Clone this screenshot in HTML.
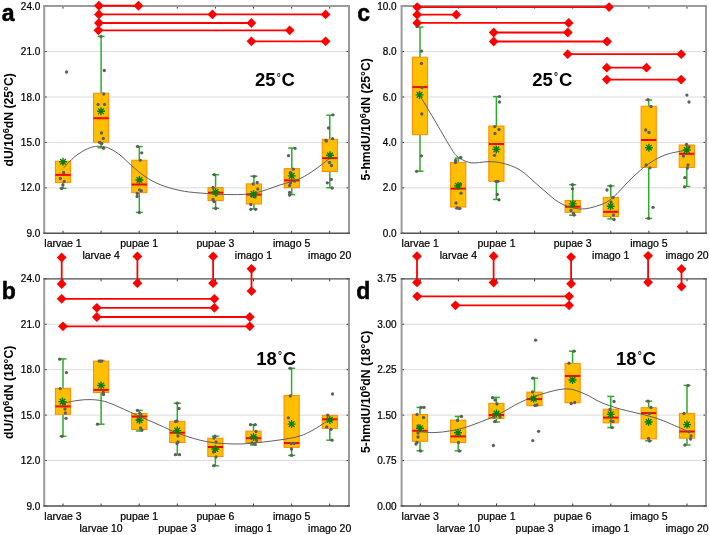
<!DOCTYPE html><html><head><meta charset="utf-8"><style>html,body{margin:0;padding:0;background:#fff;width:709px;height:535px;overflow:hidden;position:relative}</style></head><body><svg width="709" height="535" viewBox="0 0 709 535" style="position:absolute;left:0;top:0;will-change:transform">
<rect width="709" height="535" fill="#fff"/>
<line x1="44.2" y1="6.1" x2="349" y2="6.1" stroke="#DCDCDC" stroke-width="1"/>
<line x1="44.2" y1="51.54" x2="349" y2="51.54" stroke="#DCDCDC" stroke-width="1"/>
<line x1="44.2" y1="96.98" x2="349" y2="96.98" stroke="#DCDCDC" stroke-width="1"/>
<line x1="44.2" y1="142.42" x2="349" y2="142.42" stroke="#DCDCDC" stroke-width="1"/>
<line x1="44.2" y1="187.86" x2="349" y2="187.86" stroke="#DCDCDC" stroke-width="1"/>
<line x1="44.2" y1="233.3" x2="349" y2="233.3" stroke="#DCDCDC" stroke-width="1"/>
<line x1="44.2" y1="6.1" x2="46.7" y2="6.1" stroke="#333" stroke-width="1"/>
<line x1="346.5" y1="6.1" x2="349" y2="6.1" stroke="#333" stroke-width="1"/>
<line x1="44.2" y1="51.54" x2="46.7" y2="51.54" stroke="#333" stroke-width="1"/>
<line x1="346.5" y1="51.54" x2="349" y2="51.54" stroke="#333" stroke-width="1"/>
<line x1="44.2" y1="96.98" x2="46.7" y2="96.98" stroke="#333" stroke-width="1"/>
<line x1="346.5" y1="96.98" x2="349" y2="96.98" stroke="#333" stroke-width="1"/>
<line x1="44.2" y1="142.42" x2="46.7" y2="142.42" stroke="#333" stroke-width="1"/>
<line x1="346.5" y1="142.42" x2="349" y2="142.42" stroke="#333" stroke-width="1"/>
<line x1="44.2" y1="187.86" x2="46.7" y2="187.86" stroke="#333" stroke-width="1"/>
<line x1="346.5" y1="187.86" x2="349" y2="187.86" stroke="#333" stroke-width="1"/>
<line x1="44.2" y1="233.3" x2="46.7" y2="233.3" stroke="#333" stroke-width="1"/>
<line x1="346.5" y1="233.3" x2="349" y2="233.3" stroke="#333" stroke-width="1"/>
<line x1="63" y1="6.1" x2="63" y2="8.6" stroke="#333" stroke-width="1"/>
<line x1="63" y1="230.8" x2="63" y2="233.3" stroke="#333" stroke-width="1"/>
<line x1="101.1" y1="6.1" x2="101.1" y2="8.6" stroke="#333" stroke-width="1"/>
<line x1="101.1" y1="230.8" x2="101.1" y2="233.3" stroke="#333" stroke-width="1"/>
<line x1="139.2" y1="6.1" x2="139.2" y2="8.6" stroke="#333" stroke-width="1"/>
<line x1="139.2" y1="230.8" x2="139.2" y2="233.3" stroke="#333" stroke-width="1"/>
<line x1="177.3" y1="6.1" x2="177.3" y2="8.6" stroke="#333" stroke-width="1"/>
<line x1="177.3" y1="230.8" x2="177.3" y2="233.3" stroke="#333" stroke-width="1"/>
<line x1="215.4" y1="6.1" x2="215.4" y2="8.6" stroke="#333" stroke-width="1"/>
<line x1="215.4" y1="230.8" x2="215.4" y2="233.3" stroke="#333" stroke-width="1"/>
<line x1="253.5" y1="6.1" x2="253.5" y2="8.6" stroke="#333" stroke-width="1"/>
<line x1="253.5" y1="230.8" x2="253.5" y2="233.3" stroke="#333" stroke-width="1"/>
<line x1="291.6" y1="6.1" x2="291.6" y2="8.6" stroke="#333" stroke-width="1"/>
<line x1="291.6" y1="230.8" x2="291.6" y2="233.3" stroke="#333" stroke-width="1"/>
<line x1="329.7" y1="6.1" x2="329.7" y2="8.6" stroke="#333" stroke-width="1"/>
<line x1="329.7" y1="230.8" x2="329.7" y2="233.3" stroke="#333" stroke-width="1"/>
<line x1="44.2" y1="278.8" x2="349" y2="278.8" stroke="#DCDCDC" stroke-width="1"/>
<line x1="44.2" y1="324.24" x2="349" y2="324.24" stroke="#DCDCDC" stroke-width="1"/>
<line x1="44.2" y1="369.68" x2="349" y2="369.68" stroke="#DCDCDC" stroke-width="1"/>
<line x1="44.2" y1="415.12" x2="349" y2="415.12" stroke="#DCDCDC" stroke-width="1"/>
<line x1="44.2" y1="460.56" x2="349" y2="460.56" stroke="#DCDCDC" stroke-width="1"/>
<line x1="44.2" y1="506" x2="349" y2="506" stroke="#DCDCDC" stroke-width="1"/>
<line x1="44.2" y1="278.8" x2="46.7" y2="278.8" stroke="#333" stroke-width="1"/>
<line x1="346.5" y1="278.8" x2="349" y2="278.8" stroke="#333" stroke-width="1"/>
<line x1="44.2" y1="324.24" x2="46.7" y2="324.24" stroke="#333" stroke-width="1"/>
<line x1="346.5" y1="324.24" x2="349" y2="324.24" stroke="#333" stroke-width="1"/>
<line x1="44.2" y1="369.68" x2="46.7" y2="369.68" stroke="#333" stroke-width="1"/>
<line x1="346.5" y1="369.68" x2="349" y2="369.68" stroke="#333" stroke-width="1"/>
<line x1="44.2" y1="415.12" x2="46.7" y2="415.12" stroke="#333" stroke-width="1"/>
<line x1="346.5" y1="415.12" x2="349" y2="415.12" stroke="#333" stroke-width="1"/>
<line x1="44.2" y1="460.56" x2="46.7" y2="460.56" stroke="#333" stroke-width="1"/>
<line x1="346.5" y1="460.56" x2="349" y2="460.56" stroke="#333" stroke-width="1"/>
<line x1="44.2" y1="506" x2="46.7" y2="506" stroke="#333" stroke-width="1"/>
<line x1="346.5" y1="506" x2="349" y2="506" stroke="#333" stroke-width="1"/>
<line x1="63" y1="278.8" x2="63" y2="281.3" stroke="#333" stroke-width="1"/>
<line x1="63" y1="503.5" x2="63" y2="506" stroke="#333" stroke-width="1"/>
<line x1="101.1" y1="278.8" x2="101.1" y2="281.3" stroke="#333" stroke-width="1"/>
<line x1="101.1" y1="503.5" x2="101.1" y2="506" stroke="#333" stroke-width="1"/>
<line x1="139.2" y1="278.8" x2="139.2" y2="281.3" stroke="#333" stroke-width="1"/>
<line x1="139.2" y1="503.5" x2="139.2" y2="506" stroke="#333" stroke-width="1"/>
<line x1="177.3" y1="278.8" x2="177.3" y2="281.3" stroke="#333" stroke-width="1"/>
<line x1="177.3" y1="503.5" x2="177.3" y2="506" stroke="#333" stroke-width="1"/>
<line x1="215.4" y1="278.8" x2="215.4" y2="281.3" stroke="#333" stroke-width="1"/>
<line x1="215.4" y1="503.5" x2="215.4" y2="506" stroke="#333" stroke-width="1"/>
<line x1="253.5" y1="278.8" x2="253.5" y2="281.3" stroke="#333" stroke-width="1"/>
<line x1="253.5" y1="503.5" x2="253.5" y2="506" stroke="#333" stroke-width="1"/>
<line x1="291.6" y1="278.8" x2="291.6" y2="281.3" stroke="#333" stroke-width="1"/>
<line x1="291.6" y1="503.5" x2="291.6" y2="506" stroke="#333" stroke-width="1"/>
<line x1="329.7" y1="278.8" x2="329.7" y2="281.3" stroke="#333" stroke-width="1"/>
<line x1="329.7" y1="503.5" x2="329.7" y2="506" stroke="#333" stroke-width="1"/>
<line x1="401.6" y1="6.1" x2="706" y2="6.1" stroke="#DCDCDC" stroke-width="1"/>
<line x1="401.6" y1="51.54" x2="706" y2="51.54" stroke="#DCDCDC" stroke-width="1"/>
<line x1="401.6" y1="96.98" x2="706" y2="96.98" stroke="#DCDCDC" stroke-width="1"/>
<line x1="401.6" y1="142.42" x2="706" y2="142.42" stroke="#DCDCDC" stroke-width="1"/>
<line x1="401.6" y1="187.86" x2="706" y2="187.86" stroke="#DCDCDC" stroke-width="1"/>
<line x1="401.6" y1="233.3" x2="706" y2="233.3" stroke="#DCDCDC" stroke-width="1"/>
<line x1="401.6" y1="6.1" x2="404.1" y2="6.1" stroke="#333" stroke-width="1"/>
<line x1="703.5" y1="6.1" x2="706" y2="6.1" stroke="#333" stroke-width="1"/>
<line x1="401.6" y1="51.54" x2="404.1" y2="51.54" stroke="#333" stroke-width="1"/>
<line x1="703.5" y1="51.54" x2="706" y2="51.54" stroke="#333" stroke-width="1"/>
<line x1="401.6" y1="96.98" x2="404.1" y2="96.98" stroke="#333" stroke-width="1"/>
<line x1="703.5" y1="96.98" x2="706" y2="96.98" stroke="#333" stroke-width="1"/>
<line x1="401.6" y1="142.42" x2="404.1" y2="142.42" stroke="#333" stroke-width="1"/>
<line x1="703.5" y1="142.42" x2="706" y2="142.42" stroke="#333" stroke-width="1"/>
<line x1="401.6" y1="187.86" x2="404.1" y2="187.86" stroke="#333" stroke-width="1"/>
<line x1="703.5" y1="187.86" x2="706" y2="187.86" stroke="#333" stroke-width="1"/>
<line x1="401.6" y1="233.3" x2="404.1" y2="233.3" stroke="#333" stroke-width="1"/>
<line x1="703.5" y1="233.3" x2="706" y2="233.3" stroke="#333" stroke-width="1"/>
<line x1="420.3" y1="6.1" x2="420.3" y2="8.6" stroke="#333" stroke-width="1"/>
<line x1="420.3" y1="230.8" x2="420.3" y2="233.3" stroke="#333" stroke-width="1"/>
<line x1="458.4" y1="6.1" x2="458.4" y2="8.6" stroke="#333" stroke-width="1"/>
<line x1="458.4" y1="230.8" x2="458.4" y2="233.3" stroke="#333" stroke-width="1"/>
<line x1="496.5" y1="6.1" x2="496.5" y2="8.6" stroke="#333" stroke-width="1"/>
<line x1="496.5" y1="230.8" x2="496.5" y2="233.3" stroke="#333" stroke-width="1"/>
<line x1="534.6" y1="6.1" x2="534.6" y2="8.6" stroke="#333" stroke-width="1"/>
<line x1="534.6" y1="230.8" x2="534.6" y2="233.3" stroke="#333" stroke-width="1"/>
<line x1="572.7" y1="6.1" x2="572.7" y2="8.6" stroke="#333" stroke-width="1"/>
<line x1="572.7" y1="230.8" x2="572.7" y2="233.3" stroke="#333" stroke-width="1"/>
<line x1="610.8" y1="6.1" x2="610.8" y2="8.6" stroke="#333" stroke-width="1"/>
<line x1="610.8" y1="230.8" x2="610.8" y2="233.3" stroke="#333" stroke-width="1"/>
<line x1="648.9" y1="6.1" x2="648.9" y2="8.6" stroke="#333" stroke-width="1"/>
<line x1="648.9" y1="230.8" x2="648.9" y2="233.3" stroke="#333" stroke-width="1"/>
<line x1="687" y1="6.1" x2="687" y2="8.6" stroke="#333" stroke-width="1"/>
<line x1="687" y1="230.8" x2="687" y2="233.3" stroke="#333" stroke-width="1"/>
<line x1="401.6" y1="278.8" x2="706" y2="278.8" stroke="#DCDCDC" stroke-width="1"/>
<line x1="401.6" y1="324.24" x2="706" y2="324.24" stroke="#DCDCDC" stroke-width="1"/>
<line x1="401.6" y1="369.68" x2="706" y2="369.68" stroke="#DCDCDC" stroke-width="1"/>
<line x1="401.6" y1="415.12" x2="706" y2="415.12" stroke="#DCDCDC" stroke-width="1"/>
<line x1="401.6" y1="460.56" x2="706" y2="460.56" stroke="#DCDCDC" stroke-width="1"/>
<line x1="401.6" y1="506" x2="706" y2="506" stroke="#DCDCDC" stroke-width="1"/>
<line x1="401.6" y1="278.8" x2="404.1" y2="278.8" stroke="#333" stroke-width="1"/>
<line x1="703.5" y1="278.8" x2="706" y2="278.8" stroke="#333" stroke-width="1"/>
<line x1="401.6" y1="324.24" x2="404.1" y2="324.24" stroke="#333" stroke-width="1"/>
<line x1="703.5" y1="324.24" x2="706" y2="324.24" stroke="#333" stroke-width="1"/>
<line x1="401.6" y1="369.68" x2="404.1" y2="369.68" stroke="#333" stroke-width="1"/>
<line x1="703.5" y1="369.68" x2="706" y2="369.68" stroke="#333" stroke-width="1"/>
<line x1="401.6" y1="415.12" x2="404.1" y2="415.12" stroke="#333" stroke-width="1"/>
<line x1="703.5" y1="415.12" x2="706" y2="415.12" stroke="#333" stroke-width="1"/>
<line x1="401.6" y1="460.56" x2="404.1" y2="460.56" stroke="#333" stroke-width="1"/>
<line x1="703.5" y1="460.56" x2="706" y2="460.56" stroke="#333" stroke-width="1"/>
<line x1="401.6" y1="506" x2="404.1" y2="506" stroke="#333" stroke-width="1"/>
<line x1="703.5" y1="506" x2="706" y2="506" stroke="#333" stroke-width="1"/>
<line x1="420.3" y1="278.8" x2="420.3" y2="281.3" stroke="#333" stroke-width="1"/>
<line x1="420.3" y1="503.5" x2="420.3" y2="506" stroke="#333" stroke-width="1"/>
<line x1="458.4" y1="278.8" x2="458.4" y2="281.3" stroke="#333" stroke-width="1"/>
<line x1="458.4" y1="503.5" x2="458.4" y2="506" stroke="#333" stroke-width="1"/>
<line x1="496.5" y1="278.8" x2="496.5" y2="281.3" stroke="#333" stroke-width="1"/>
<line x1="496.5" y1="503.5" x2="496.5" y2="506" stroke="#333" stroke-width="1"/>
<line x1="534.6" y1="278.8" x2="534.6" y2="281.3" stroke="#333" stroke-width="1"/>
<line x1="534.6" y1="503.5" x2="534.6" y2="506" stroke="#333" stroke-width="1"/>
<line x1="572.7" y1="278.8" x2="572.7" y2="281.3" stroke="#333" stroke-width="1"/>
<line x1="572.7" y1="503.5" x2="572.7" y2="506" stroke="#333" stroke-width="1"/>
<line x1="610.8" y1="278.8" x2="610.8" y2="281.3" stroke="#333" stroke-width="1"/>
<line x1="610.8" y1="503.5" x2="610.8" y2="506" stroke="#333" stroke-width="1"/>
<line x1="648.9" y1="278.8" x2="648.9" y2="281.3" stroke="#333" stroke-width="1"/>
<line x1="648.9" y1="503.5" x2="648.9" y2="506" stroke="#333" stroke-width="1"/>
<line x1="687" y1="278.8" x2="687" y2="281.3" stroke="#333" stroke-width="1"/>
<line x1="687" y1="503.5" x2="687" y2="506" stroke="#333" stroke-width="1"/>
<line x1="63" y1="182.6" x2="63" y2="188.4" stroke="#2AAE2A" stroke-width="1.5"/>
<line x1="59.5" y1="188.4" x2="66.5" y2="188.4" stroke="#2AAE2A" stroke-width="1.5"/>
<rect x="55.4" y="161.2" width="15.2" height="21.4" fill="#FFBE00" stroke="#FF8A00" stroke-width="1"/>
<line x1="55.4" y1="174.9" x2="70.6" y2="174.9" stroke="#FF0000" stroke-width="2"/>
<line x1="101.1" y1="36.4" x2="101.1" y2="93.2" stroke="#2AAE2A" stroke-width="1.5"/>
<line x1="97.6" y1="36.4" x2="104.6" y2="36.4" stroke="#2AAE2A" stroke-width="1.5"/>
<line x1="101.1" y1="142.2" x2="101.1" y2="147.8" stroke="#2AAE2A" stroke-width="1.5"/>
<line x1="97.6" y1="147.8" x2="104.6" y2="147.8" stroke="#2AAE2A" stroke-width="1.5"/>
<rect x="93.5" y="93.2" width="15.2" height="49" fill="#FFBE00" stroke="#FF8A00" stroke-width="1"/>
<line x1="93.5" y1="118.2" x2="108.7" y2="118.2" stroke="#FF0000" stroke-width="2"/>
<line x1="139.3" y1="146.6" x2="139.3" y2="160.2" stroke="#2AAE2A" stroke-width="1.5"/>
<line x1="135.8" y1="146.6" x2="142.8" y2="146.6" stroke="#2AAE2A" stroke-width="1.5"/>
<line x1="139.3" y1="192.6" x2="139.3" y2="212.4" stroke="#2AAE2A" stroke-width="1.5"/>
<line x1="135.8" y1="212.4" x2="142.8" y2="212.4" stroke="#2AAE2A" stroke-width="1.5"/>
<rect x="131.7" y="160.2" width="15.2" height="32.4" fill="#FFBE00" stroke="#FF8A00" stroke-width="1"/>
<line x1="131.7" y1="184.5" x2="146.9" y2="184.5" stroke="#FF0000" stroke-width="2"/>
<line x1="215.6" y1="174.7" x2="215.6" y2="187.6" stroke="#2AAE2A" stroke-width="1.5"/>
<line x1="212.1" y1="174.7" x2="219.1" y2="174.7" stroke="#2AAE2A" stroke-width="1.5"/>
<line x1="215.6" y1="200.6" x2="215.6" y2="208.3" stroke="#2AAE2A" stroke-width="1.5"/>
<line x1="212.1" y1="208.3" x2="219.1" y2="208.3" stroke="#2AAE2A" stroke-width="1.5"/>
<rect x="208" y="187.6" width="15.2" height="13" fill="#FFBE00" stroke="#FF8A00" stroke-width="1"/>
<line x1="208" y1="192.7" x2="223.2" y2="192.7" stroke="#FF0000" stroke-width="2"/>
<line x1="253.9" y1="176.2" x2="253.9" y2="183.9" stroke="#2AAE2A" stroke-width="1.5"/>
<line x1="250.4" y1="176.2" x2="257.4" y2="176.2" stroke="#2AAE2A" stroke-width="1.5"/>
<line x1="253.9" y1="204" x2="253.9" y2="208.9" stroke="#2AAE2A" stroke-width="1.5"/>
<line x1="250.4" y1="208.9" x2="257.4" y2="208.9" stroke="#2AAE2A" stroke-width="1.5"/>
<rect x="246.3" y="183.9" width="15.2" height="20.1" fill="#FFBE00" stroke="#FF8A00" stroke-width="1"/>
<line x1="246.3" y1="194.6" x2="261.5" y2="194.6" stroke="#FF0000" stroke-width="2"/>
<line x1="291.8" y1="148.1" x2="291.8" y2="168.6" stroke="#2AAE2A" stroke-width="1.5"/>
<line x1="288.3" y1="148.1" x2="295.3" y2="148.1" stroke="#2AAE2A" stroke-width="1.5"/>
<line x1="291.8" y1="187.7" x2="291.8" y2="194.6" stroke="#2AAE2A" stroke-width="1.5"/>
<line x1="288.3" y1="194.6" x2="295.3" y2="194.6" stroke="#2AAE2A" stroke-width="1.5"/>
<rect x="284.2" y="168.6" width="15.2" height="19.1" fill="#FFBE00" stroke="#FF8A00" stroke-width="1"/>
<line x1="284.2" y1="180.4" x2="299.4" y2="180.4" stroke="#FF0000" stroke-width="2"/>
<line x1="329.8" y1="115.2" x2="329.8" y2="139.3" stroke="#2AAE2A" stroke-width="1.5"/>
<line x1="326.3" y1="115.2" x2="333.3" y2="115.2" stroke="#2AAE2A" stroke-width="1.5"/>
<line x1="329.8" y1="171.5" x2="329.8" y2="187.7" stroke="#2AAE2A" stroke-width="1.5"/>
<line x1="326.3" y1="187.7" x2="333.3" y2="187.7" stroke="#2AAE2A" stroke-width="1.5"/>
<rect x="322.2" y="139.3" width="15.2" height="32.2" fill="#FFBE00" stroke="#FF8A00" stroke-width="1"/>
<line x1="322.2" y1="158.1" x2="337.4" y2="158.1" stroke="#FF0000" stroke-width="2"/>
<path d="M63.5 168C65.42 166.08 70.92 159.75 75 156.5C79.08 153.25 84.17 150.2 88 148.5C91.83 146.8 94.67 146.42 98 146.3C101.33 146.18 104.33 146.35 108 147.8C111.67 149.25 116 151.97 120 155C124 158.03 127.83 162.42 132 166C136.17 169.58 140.33 173.4 145 176.5C149.67 179.6 154.17 182.27 160 184.6C165.83 186.93 173.33 189.1 180 190.5C186.67 191.9 191.5 192.32 200 193C208.5 193.68 221.83 194.6 231 194.6C240.17 194.6 246.83 194.6 255 193C263.17 191.4 272.5 187.4 280 185C287.5 182.6 294.17 181.18 300 178.6C305.83 176.02 310 172.9 315 169.5C320 166.1 327.5 160.08 330 158.2" fill="none" stroke="#606060" stroke-width="1"/>
<circle cx="66.6" cy="72" r="1.65" fill="#5E5E62"/>
<circle cx="63.6" cy="172.5" r="1.65" fill="#5E5E62"/>
<circle cx="60.3" cy="178.5" r="1.65" fill="#5E5E62"/>
<circle cx="64.2" cy="181.5" r="1.65" fill="#5E5E62"/>
<circle cx="62.9" cy="184.9" r="1.65" fill="#5E5E62"/>
<circle cx="61.7" cy="188.5" r="1.65" fill="#5E5E62"/>
<path d="M59 161.8L67 161.8M60.17 158.97L65.83 164.63M63 157.8L63 165.8M65.83 158.97L60.17 164.63" stroke="#0A800A" stroke-width="1.4"/>
<circle cx="101" cy="36.4" r="1.65" fill="#5E5E62"/>
<circle cx="104.3" cy="70.5" r="1.65" fill="#5E5E62"/>
<circle cx="103.7" cy="94" r="1.65" fill="#5E5E62"/>
<circle cx="98.1" cy="104.4" r="1.65" fill="#5E5E62"/>
<circle cx="104.5" cy="104.4" r="1.65" fill="#5E5E62"/>
<circle cx="101.5" cy="133" r="1.65" fill="#5E5E62"/>
<circle cx="103.3" cy="138.5" r="1.65" fill="#5E5E62"/>
<circle cx="99.6" cy="142.5" r="1.65" fill="#5E5E62"/>
<circle cx="101.8" cy="143.5" r="1.65" fill="#5E5E62"/>
<circle cx="103.6" cy="148.3" r="1.65" fill="#5E5E62"/>
<path d="M97 111.3L105 111.3M98.17 108.47L103.83 114.13M101 107.3L101 115.3M103.83 108.47L98.17 114.13" stroke="#0A800A" stroke-width="1.4"/>
<circle cx="137.6" cy="146.4" r="1.65" fill="#5E5E62"/>
<circle cx="141.7" cy="152.8" r="1.65" fill="#5E5E62"/>
<circle cx="140.3" cy="160.3" r="1.65" fill="#5E5E62"/>
<circle cx="139.5" cy="189.8" r="1.65" fill="#5E5E62"/>
<circle cx="141.4" cy="190.8" r="1.65" fill="#5E5E62"/>
<circle cx="137.3" cy="193.5" r="1.65" fill="#5E5E62"/>
<circle cx="137.1" cy="196.5" r="1.65" fill="#5E5E62"/>
<circle cx="139.3" cy="212.6" r="1.65" fill="#5E5E62"/>
<path d="M135.4 180L143.4 180M136.57 177.17L142.23 182.83M139.4 176L139.4 184M142.23 177.17L136.57 182.83" stroke="#0A800A" stroke-width="1.4"/>
<circle cx="214.3" cy="174.7" r="1.65" fill="#5E5E62"/>
<circle cx="213" cy="187.5" r="1.65" fill="#5E5E62"/>
<circle cx="215.5" cy="193" r="1.65" fill="#5E5E62"/>
<circle cx="216" cy="195" r="1.65" fill="#5E5E62"/>
<circle cx="213" cy="199.5" r="1.65" fill="#5E5E62"/>
<circle cx="214" cy="201.5" r="1.65" fill="#5E5E62"/>
<circle cx="215.8" cy="208.5" r="1.65" fill="#5E5E62"/>
<path d="M211.6 192L219.6 192M212.77 189.17L218.43 194.83M215.6 188L215.6 196M218.43 189.17L212.77 194.83" stroke="#0A800A" stroke-width="1.4"/>
<circle cx="254.2" cy="176.4" r="1.65" fill="#5E5E62"/>
<circle cx="253.2" cy="184" r="1.65" fill="#5E5E62"/>
<circle cx="257.2" cy="182.5" r="1.65" fill="#5E5E62"/>
<circle cx="257.8" cy="189" r="1.65" fill="#5E5E62"/>
<circle cx="250.8" cy="204.5" r="1.65" fill="#5E5E62"/>
<circle cx="250.8" cy="209.3" r="1.65" fill="#5E5E62"/>
<circle cx="255.6" cy="209.3" r="1.65" fill="#5E5E62"/>
<circle cx="251.5" cy="196" r="1.65" fill="#5E5E62"/>
<circle cx="255" cy="197" r="1.65" fill="#5E5E62"/>
<path d="M249.5 194L257.5 194M250.67 191.17L256.33 196.83M253.5 190L253.5 198M256.33 191.17L250.67 196.83" stroke="#0A800A" stroke-width="1.4"/>
<circle cx="295" cy="148.3" r="1.65" fill="#5E5E62"/>
<circle cx="288.5" cy="155.7" r="1.65" fill="#5E5E62"/>
<circle cx="293.3" cy="169.2" r="1.65" fill="#5E5E62"/>
<circle cx="290.5" cy="172.5" r="1.65" fill="#5E5E62"/>
<circle cx="290.5" cy="183" r="1.65" fill="#5E5E62"/>
<circle cx="294.5" cy="181.2" r="1.65" fill="#5E5E62"/>
<circle cx="289.6" cy="185.5" r="1.65" fill="#5E5E62"/>
<circle cx="289.6" cy="192.5" r="1.65" fill="#5E5E62"/>
<circle cx="289.6" cy="195" r="1.65" fill="#5E5E62"/>
<path d="M287.7 175.9L295.7 175.9M288.87 173.07L294.53 178.73M291.7 171.9L291.7 179.9M294.53 173.07L288.87 178.73" stroke="#0A800A" stroke-width="1.4"/>
<circle cx="333" cy="114.8" r="1.65" fill="#5E5E62"/>
<circle cx="328.5" cy="128" r="1.65" fill="#5E5E62"/>
<circle cx="325.9" cy="140.5" r="1.65" fill="#5E5E62"/>
<circle cx="332.6" cy="138.7" r="1.65" fill="#5E5E62"/>
<circle cx="326.4" cy="141" r="1.65" fill="#5E5E62"/>
<circle cx="329.5" cy="162.5" r="1.65" fill="#5E5E62"/>
<circle cx="331.5" cy="165.5" r="1.65" fill="#5E5E62"/>
<circle cx="331.3" cy="179.4" r="1.65" fill="#5E5E62"/>
<circle cx="327.3" cy="182.8" r="1.65" fill="#5E5E62"/>
<circle cx="332.2" cy="188" r="1.65" fill="#5E5E62"/>
<path d="M326 155.3L334 155.3M327.17 152.47L332.83 158.13M330 151.3L330 159.3M332.83 152.47L327.17 158.13" stroke="#0A800A" stroke-width="1.4"/>
<line x1="63" y1="358.9" x2="63" y2="388.3" stroke="#2AAE2A" stroke-width="1.5"/>
<line x1="59.5" y1="358.9" x2="66.5" y2="358.9" stroke="#2AAE2A" stroke-width="1.5"/>
<line x1="63" y1="414.3" x2="63" y2="436.3" stroke="#2AAE2A" stroke-width="1.5"/>
<line x1="59.5" y1="436.3" x2="66.5" y2="436.3" stroke="#2AAE2A" stroke-width="1.5"/>
<rect x="55.4" y="388.3" width="15.2" height="26" fill="#FFBE00" stroke="#FF8A00" stroke-width="1"/>
<line x1="55.4" y1="406.4" x2="70.6" y2="406.4" stroke="#FF0000" stroke-width="2"/>
<line x1="101.1" y1="360.5" x2="101.1" y2="361.1" stroke="#2AAE2A" stroke-width="1.5"/>
<line x1="97.6" y1="360.5" x2="104.6" y2="360.5" stroke="#2AAE2A" stroke-width="1.5"/>
<line x1="101.1" y1="392.5" x2="101.1" y2="424.2" stroke="#2AAE2A" stroke-width="1.5"/>
<line x1="97.6" y1="424.2" x2="104.6" y2="424.2" stroke="#2AAE2A" stroke-width="1.5"/>
<rect x="93.5" y="361.1" width="15.2" height="31.4" fill="#FFBE00" stroke="#FF8A00" stroke-width="1"/>
<line x1="93.5" y1="389.9" x2="108.7" y2="389.9" stroke="#FF0000" stroke-width="2"/>
<line x1="139.3" y1="410.4" x2="139.3" y2="413.5" stroke="#2AAE2A" stroke-width="1.5"/>
<line x1="135.8" y1="410.4" x2="142.8" y2="410.4" stroke="#2AAE2A" stroke-width="1.5"/>
<line x1="139.3" y1="429.6" x2="139.3" y2="431" stroke="#2AAE2A" stroke-width="1.5"/>
<line x1="135.8" y1="431" x2="142.8" y2="431" stroke="#2AAE2A" stroke-width="1.5"/>
<rect x="131.7" y="413.5" width="15.2" height="16.1" fill="#FFBE00" stroke="#FF8A00" stroke-width="1"/>
<line x1="131.7" y1="416.5" x2="146.9" y2="416.5" stroke="#FF0000" stroke-width="2"/>
<line x1="177.3" y1="403.2" x2="177.3" y2="421.3" stroke="#2AAE2A" stroke-width="1.5"/>
<line x1="173.8" y1="403.2" x2="180.8" y2="403.2" stroke="#2AAE2A" stroke-width="1.5"/>
<line x1="177.3" y1="442.5" x2="177.3" y2="454.7" stroke="#2AAE2A" stroke-width="1.5"/>
<line x1="173.8" y1="454.7" x2="180.8" y2="454.7" stroke="#2AAE2A" stroke-width="1.5"/>
<rect x="169.7" y="421.3" width="15.2" height="21.2" fill="#FFBE00" stroke="#FF8A00" stroke-width="1"/>
<line x1="169.7" y1="432.7" x2="184.9" y2="432.7" stroke="#FF0000" stroke-width="2"/>
<line x1="215.4" y1="436.2" x2="215.4" y2="438.2" stroke="#2AAE2A" stroke-width="1.5"/>
<line x1="211.9" y1="436.2" x2="218.9" y2="436.2" stroke="#2AAE2A" stroke-width="1.5"/>
<line x1="215.4" y1="456.5" x2="215.4" y2="465.7" stroke="#2AAE2A" stroke-width="1.5"/>
<line x1="211.9" y1="465.7" x2="218.9" y2="465.7" stroke="#2AAE2A" stroke-width="1.5"/>
<rect x="207.8" y="438.2" width="15.2" height="18.3" fill="#FFBE00" stroke="#FF8A00" stroke-width="1"/>
<line x1="207.8" y1="447" x2="223" y2="447" stroke="#FF0000" stroke-width="2"/>
<line x1="253.5" y1="424.7" x2="253.5" y2="431.1" stroke="#2AAE2A" stroke-width="1.5"/>
<line x1="250" y1="424.7" x2="257" y2="424.7" stroke="#2AAE2A" stroke-width="1.5"/>
<line x1="253.5" y1="442.5" x2="253.5" y2="445" stroke="#2AAE2A" stroke-width="1.5"/>
<line x1="250" y1="445" x2="257" y2="445" stroke="#2AAE2A" stroke-width="1.5"/>
<rect x="245.9" y="431.1" width="15.2" height="11.4" fill="#FFBE00" stroke="#FF8A00" stroke-width="1"/>
<line x1="245.9" y1="438.2" x2="261.1" y2="438.2" stroke="#FF0000" stroke-width="2"/>
<line x1="291.6" y1="368.3" x2="291.6" y2="395.4" stroke="#2AAE2A" stroke-width="1.5"/>
<line x1="288.1" y1="368.3" x2="295.1" y2="368.3" stroke="#2AAE2A" stroke-width="1.5"/>
<line x1="291.6" y1="447.4" x2="291.6" y2="455.4" stroke="#2AAE2A" stroke-width="1.5"/>
<line x1="288.1" y1="455.4" x2="295.1" y2="455.4" stroke="#2AAE2A" stroke-width="1.5"/>
<rect x="284" y="395.4" width="15.2" height="52" fill="#FFBE00" stroke="#FF8A00" stroke-width="1"/>
<line x1="284" y1="443" x2="299.2" y2="443" stroke="#FF0000" stroke-width="2"/>
<line x1="329.8" y1="428.4" x2="329.8" y2="440.2" stroke="#2AAE2A" stroke-width="1.5"/>
<line x1="326.3" y1="440.2" x2="333.3" y2="440.2" stroke="#2AAE2A" stroke-width="1.5"/>
<rect x="322.2" y="415.3" width="15.2" height="13.1" fill="#FFBE00" stroke="#FF8A00" stroke-width="1"/>
<line x1="322.2" y1="419.3" x2="337.4" y2="419.3" stroke="#FF0000" stroke-width="2"/>
<path d="M63.5 403.3C65.75 402.83 72.42 401.12 77 400.5C81.58 399.88 86.33 399.43 91 399.6C95.67 399.77 100.17 400.18 105 401.5C109.83 402.82 114.17 405 120 407.5C125.83 410 133.33 413.53 140 416.5C146.67 419.47 153.33 422.38 160 425.3C166.67 428.22 172.17 431.27 180 434C187.83 436.73 197.83 440.03 207 441.7C216.17 443.37 226.67 443.83 235 444C243.33 444.17 248.83 443.48 257 442.7C265.17 441.92 276.83 440.42 284 439.3C291.17 438.18 295.17 437.55 300 436C304.83 434.45 308 432.77 313 430C318 427.23 327.17 421.17 330 419.4" fill="none" stroke="#606060" stroke-width="1"/>
<circle cx="59.7" cy="359.2" r="1.65" fill="#5E5E62"/>
<circle cx="66.4" cy="372.6" r="1.65" fill="#5E5E62"/>
<circle cx="60.2" cy="388.6" r="1.65" fill="#5E5E62"/>
<circle cx="64.5" cy="404" r="1.65" fill="#5E5E62"/>
<circle cx="65" cy="409" r="1.65" fill="#5E5E62"/>
<circle cx="65.4" cy="413" r="1.65" fill="#5E5E62"/>
<circle cx="66" cy="418.3" r="1.65" fill="#5E5E62"/>
<circle cx="62" cy="436.3" r="1.65" fill="#5E5E62"/>
<path d="M58.5 401.6L66.5 401.6M59.67 398.77L65.33 404.43M62.5 397.6L62.5 405.6M65.33 398.77L59.67 404.43" stroke="#0A800A" stroke-width="1.4"/>
<circle cx="99.5" cy="361.2" r="1.65" fill="#5E5E62"/>
<circle cx="101.5" cy="361.2" r="1.65" fill="#5E5E62"/>
<circle cx="103.3" cy="392.5" r="1.65" fill="#5E5E62"/>
<circle cx="103.5" cy="394.5" r="1.65" fill="#5E5E62"/>
<circle cx="97.5" cy="424.2" r="1.65" fill="#5E5E62"/>
<path d="M97.1 385.5L105.1 385.5M98.27 382.67L103.93 388.33M101.1 381.5L101.1 389.5M103.93 382.67L98.27 388.33" stroke="#0A800A" stroke-width="1.4"/>
<circle cx="137.5" cy="410.4" r="1.65" fill="#5E5E62"/>
<circle cx="140" cy="413.5" r="1.65" fill="#5E5E62"/>
<circle cx="141" cy="415.5" r="1.65" fill="#5E5E62"/>
<circle cx="138" cy="420" r="1.65" fill="#5E5E62"/>
<circle cx="140.5" cy="428" r="1.65" fill="#5E5E62"/>
<circle cx="142" cy="430" r="1.65" fill="#5E5E62"/>
<path d="M135.5 420.2L143.5 420.2M136.67 417.37L142.33 423.03M139.5 416.2L139.5 424.2M142.33 417.37L136.67 423.03" stroke="#0A800A" stroke-width="1.4"/>
<circle cx="177.2" cy="403.2" r="1.65" fill="#5E5E62"/>
<circle cx="179" cy="408.5" r="1.65" fill="#5E5E62"/>
<circle cx="175.5" cy="421.5" r="1.65" fill="#5E5E62"/>
<circle cx="177" cy="421" r="1.65" fill="#5E5E62"/>
<circle cx="178" cy="436" r="1.65" fill="#5E5E62"/>
<circle cx="178" cy="442" r="1.65" fill="#5E5E62"/>
<circle cx="177" cy="443.5" r="1.65" fill="#5E5E62"/>
<circle cx="175.5" cy="454.7" r="1.65" fill="#5E5E62"/>
<circle cx="179.5" cy="454.7" r="1.65" fill="#5E5E62"/>
<path d="M173.2 430.6L181.2 430.6M174.37 427.77L180.03 433.43M177.2 426.6L177.2 434.6M180.03 427.77L174.37 433.43" stroke="#0A800A" stroke-width="1.4"/>
<circle cx="215" cy="436.2" r="1.65" fill="#5E5E62"/>
<circle cx="214" cy="438" r="1.65" fill="#5E5E62"/>
<circle cx="216" cy="442" r="1.65" fill="#5E5E62"/>
<circle cx="213.5" cy="452" r="1.65" fill="#5E5E62"/>
<circle cx="216" cy="457" r="1.65" fill="#5E5E62"/>
<circle cx="214" cy="465.7" r="1.65" fill="#5E5E62"/>
<path d="M211.3 449L219.3 449M212.47 446.17L218.13 451.83M215.3 445L215.3 453M218.13 446.17L212.47 451.83" stroke="#0A800A" stroke-width="1.4"/>
<circle cx="250.5" cy="424.7" r="1.65" fill="#5E5E62"/>
<circle cx="255" cy="424.7" r="1.65" fill="#5E5E62"/>
<circle cx="256" cy="431.5" r="1.65" fill="#5E5E62"/>
<circle cx="256" cy="438" r="1.65" fill="#5E5E62"/>
<circle cx="256.5" cy="440.5" r="1.65" fill="#5E5E62"/>
<circle cx="255" cy="444" r="1.65" fill="#5E5E62"/>
<circle cx="252" cy="443" r="1.65" fill="#5E5E62"/>
<path d="M249.5 437L257.5 437M250.67 434.17L256.33 439.83M253.5 433L253.5 441M256.33 434.17L250.67 439.83" stroke="#0A800A" stroke-width="1.4"/>
<circle cx="290.3" cy="368.3" r="1.65" fill="#5E5E62"/>
<circle cx="290.3" cy="396" r="1.65" fill="#5E5E62"/>
<circle cx="288.4" cy="417.8" r="1.65" fill="#5E5E62"/>
<circle cx="291" cy="443.5" r="1.65" fill="#5E5E62"/>
<circle cx="294" cy="443.5" r="1.65" fill="#5E5E62"/>
<circle cx="291.5" cy="449" r="1.65" fill="#5E5E62"/>
<circle cx="291.5" cy="455.4" r="1.65" fill="#5E5E62"/>
<path d="M287.6 424.1L295.6 424.1M288.77 421.27L294.43 426.93M291.6 420.1L291.6 428.1M294.43 421.27L288.77 426.93" stroke="#0A800A" stroke-width="1.4"/>
<circle cx="332.5" cy="394" r="1.65" fill="#5E5E62"/>
<circle cx="327.7" cy="415.2" r="1.65" fill="#5E5E62"/>
<circle cx="326.7" cy="427" r="1.65" fill="#5E5E62"/>
<circle cx="331" cy="429.3" r="1.65" fill="#5E5E62"/>
<circle cx="332" cy="440.2" r="1.65" fill="#5E5E62"/>
<path d="M325.8 419.9L333.8 419.9M326.97 417.07L332.63 422.73M329.8 415.9L329.8 423.9M332.63 417.07L326.97 422.73" stroke="#0A800A" stroke-width="1.4"/>
<line x1="420" y1="27.1" x2="420" y2="57.2" stroke="#2AAE2A" stroke-width="1.5"/>
<line x1="416.5" y1="27.1" x2="423.5" y2="27.1" stroke="#2AAE2A" stroke-width="1.5"/>
<line x1="420" y1="134.7" x2="420" y2="171.2" stroke="#2AAE2A" stroke-width="1.5"/>
<line x1="416.5" y1="171.2" x2="423.5" y2="171.2" stroke="#2AAE2A" stroke-width="1.5"/>
<rect x="412.4" y="57.2" width="15.2" height="77.5" fill="#FFBE00" stroke="#FF8A00" stroke-width="1"/>
<line x1="412.4" y1="87.1" x2="427.6" y2="87.1" stroke="#FF0000" stroke-width="2"/>
<line x1="458.2" y1="158.2" x2="458.2" y2="162.4" stroke="#2AAE2A" stroke-width="1.5"/>
<line x1="454.7" y1="158.2" x2="461.7" y2="158.2" stroke="#2AAE2A" stroke-width="1.5"/>
<line x1="458.2" y1="207" x2="458.2" y2="208.4" stroke="#2AAE2A" stroke-width="1.5"/>
<line x1="454.7" y1="208.4" x2="461.7" y2="208.4" stroke="#2AAE2A" stroke-width="1.5"/>
<rect x="450.6" y="162.4" width="15.2" height="44.6" fill="#FFBE00" stroke="#FF8A00" stroke-width="1"/>
<line x1="450.6" y1="188.6" x2="465.8" y2="188.6" stroke="#FF0000" stroke-width="2"/>
<line x1="496.4" y1="96.6" x2="496.4" y2="126" stroke="#2AAE2A" stroke-width="1.5"/>
<line x1="492.9" y1="96.6" x2="499.9" y2="96.6" stroke="#2AAE2A" stroke-width="1.5"/>
<line x1="496.4" y1="181.3" x2="496.4" y2="199.4" stroke="#2AAE2A" stroke-width="1.5"/>
<line x1="492.9" y1="199.4" x2="499.9" y2="199.4" stroke="#2AAE2A" stroke-width="1.5"/>
<rect x="488.8" y="126" width="15.2" height="55.3" fill="#FFBE00" stroke="#FF8A00" stroke-width="1"/>
<line x1="488.8" y1="144" x2="504" y2="144" stroke="#FF0000" stroke-width="2"/>
<line x1="572.7" y1="184.7" x2="572.7" y2="200.4" stroke="#2AAE2A" stroke-width="1.5"/>
<line x1="569.2" y1="184.7" x2="576.2" y2="184.7" stroke="#2AAE2A" stroke-width="1.5"/>
<line x1="572.7" y1="212.3" x2="572.7" y2="215.2" stroke="#2AAE2A" stroke-width="1.5"/>
<line x1="569.2" y1="215.2" x2="576.2" y2="215.2" stroke="#2AAE2A" stroke-width="1.5"/>
<rect x="565.1" y="200.4" width="15.2" height="11.9" fill="#FFBE00" stroke="#FF8A00" stroke-width="1"/>
<line x1="565.1" y1="206.7" x2="580.3" y2="206.7" stroke="#FF0000" stroke-width="2"/>
<line x1="610.8" y1="185.9" x2="610.8" y2="197.4" stroke="#2AAE2A" stroke-width="1.5"/>
<line x1="607.3" y1="185.9" x2="614.3" y2="185.9" stroke="#2AAE2A" stroke-width="1.5"/>
<line x1="610.8" y1="216.6" x2="610.8" y2="218.9" stroke="#2AAE2A" stroke-width="1.5"/>
<line x1="607.3" y1="218.9" x2="614.3" y2="218.9" stroke="#2AAE2A" stroke-width="1.5"/>
<rect x="603.2" y="197.4" width="15.2" height="19.2" fill="#FFBE00" stroke="#FF8A00" stroke-width="1"/>
<line x1="603.2" y1="211.8" x2="618.4" y2="211.8" stroke="#FF0000" stroke-width="2"/>
<line x1="648.7" y1="100" x2="648.7" y2="106.2" stroke="#2AAE2A" stroke-width="1.5"/>
<line x1="645.2" y1="100" x2="652.2" y2="100" stroke="#2AAE2A" stroke-width="1.5"/>
<line x1="648.7" y1="167.4" x2="648.7" y2="218.4" stroke="#2AAE2A" stroke-width="1.5"/>
<line x1="645.2" y1="218.4" x2="652.2" y2="218.4" stroke="#2AAE2A" stroke-width="1.5"/>
<rect x="641.1" y="106.2" width="15.2" height="61.2" fill="#FFBE00" stroke="#FF8A00" stroke-width="1"/>
<line x1="641.1" y1="140" x2="656.3" y2="140" stroke="#FF0000" stroke-width="2"/>
<line x1="686.8" y1="167.4" x2="686.8" y2="186.5" stroke="#2AAE2A" stroke-width="1.5"/>
<line x1="683.3" y1="186.5" x2="690.3" y2="186.5" stroke="#2AAE2A" stroke-width="1.5"/>
<rect x="679.2" y="145" width="15.2" height="22.4" fill="#FFBE00" stroke="#FF8A00" stroke-width="1"/>
<line x1="679.2" y1="153.8" x2="694.4" y2="153.8" stroke="#FF0000" stroke-width="2"/>
<path d="M419.5 95C421.9 99 428.68 110.2 433.9 119C439.12 127.8 446.78 141.47 450.8 147.8C454.82 154.13 454.63 154.5 458 157C461.37 159.5 466 162.02 471 162.8C476 163.58 482.88 161.67 488 161.7C493.12 161.73 496.37 161.62 501.7 163C507.03 164.38 513.62 166 520 170C526.38 174 533.33 181.5 540 187C546.67 192.5 553.33 199.33 560 203C566.67 206.67 573.33 208.67 580 209C586.67 209.33 594.5 206.92 600 205C605.5 203.08 608 201.67 613 197.5C618 193.33 624.4 185.38 630 180C635.6 174.62 640.77 169.37 646.6 165.2C652.43 161.03 658.27 157.53 665 155C671.73 152.47 683.33 150.83 687 150" fill="none" stroke="#606060" stroke-width="1"/>
<circle cx="417" cy="26.5" r="1.65" fill="#5E5E62"/>
<circle cx="421.5" cy="51.1" r="1.65" fill="#5E5E62"/>
<circle cx="421.5" cy="63.5" r="1.65" fill="#5E5E62"/>
<circle cx="422" cy="87.6" r="1.65" fill="#5E5E62"/>
<circle cx="421.8" cy="114" r="1.65" fill="#5E5E62"/>
<circle cx="421.5" cy="155.8" r="1.65" fill="#5E5E62"/>
<circle cx="416.6" cy="171.3" r="1.65" fill="#5E5E62"/>
<path d="M415.5 94.9L423.5 94.9M416.67 92.07L422.33 97.73M419.5 90.9L419.5 98.9M422.33 92.07L416.67 97.73" stroke="#0A800A" stroke-width="1.4"/>
<circle cx="455.5" cy="160.5" r="1.65" fill="#5E5E62"/>
<circle cx="455.5" cy="162.5" r="1.65" fill="#5E5E62"/>
<circle cx="460.7" cy="157.5" r="1.65" fill="#5E5E62"/>
<circle cx="460.5" cy="184" r="1.65" fill="#5E5E62"/>
<circle cx="461" cy="193.2" r="1.65" fill="#5E5E62"/>
<circle cx="456" cy="203" r="1.65" fill="#5E5E62"/>
<circle cx="457" cy="208" r="1.65" fill="#5E5E62"/>
<circle cx="459.5" cy="208.5" r="1.65" fill="#5E5E62"/>
<path d="M454 185.9L462 185.9M455.17 183.07L460.83 188.73M458 181.9L458 189.9M460.83 183.07L455.17 188.73" stroke="#0A800A" stroke-width="1.4"/>
<circle cx="499.5" cy="96.6" r="1.65" fill="#5E5E62"/>
<circle cx="499.5" cy="102" r="1.65" fill="#5E5E62"/>
<circle cx="494.8" cy="126.6" r="1.65" fill="#5E5E62"/>
<circle cx="499" cy="129.5" r="1.65" fill="#5E5E62"/>
<circle cx="495" cy="133.5" r="1.65" fill="#5E5E62"/>
<circle cx="494.5" cy="155.3" r="1.65" fill="#5E5E62"/>
<circle cx="496" cy="181.3" r="1.65" fill="#5E5E62"/>
<circle cx="498" cy="181.3" r="1.65" fill="#5E5E62"/>
<circle cx="497.3" cy="194.5" r="1.65" fill="#5E5E62"/>
<circle cx="499" cy="199.8" r="1.65" fill="#5E5E62"/>
<path d="M492.3 149.4L500.3 149.4M493.47 146.57L499.13 152.23M496.3 145.4L496.3 153.4M499.13 146.57L493.47 152.23" stroke="#0A800A" stroke-width="1.4"/>
<circle cx="572.5" cy="184.7" r="1.65" fill="#5E5E62"/>
<circle cx="572.5" cy="188.8" r="1.65" fill="#5E5E62"/>
<circle cx="571" cy="210.5" r="1.65" fill="#5E5E62"/>
<circle cx="573.5" cy="213.5" r="1.65" fill="#5E5E62"/>
<circle cx="574" cy="215" r="1.65" fill="#5E5E62"/>
<path d="M568.8 203.9L576.8 203.9M569.97 201.07L575.63 206.73M572.8 199.9L572.8 207.9M575.63 201.07L569.97 206.73" stroke="#0A800A" stroke-width="1.4"/>
<circle cx="610.5" cy="185.9" r="1.65" fill="#5E5E62"/>
<circle cx="607" cy="190" r="1.65" fill="#5E5E62"/>
<circle cx="613" cy="197.5" r="1.65" fill="#5E5E62"/>
<circle cx="611" cy="202" r="1.65" fill="#5E5E62"/>
<circle cx="613.5" cy="215" r="1.65" fill="#5E5E62"/>
<circle cx="614" cy="219.5" r="1.65" fill="#5E5E62"/>
<path d="M606.6 206.2L614.6 206.2M607.77 203.37L613.43 209.03M610.6 202.2L610.6 210.2M613.43 203.37L607.77 209.03" stroke="#0A800A" stroke-width="1.4"/>
<circle cx="648" cy="99.7" r="1.65" fill="#5E5E62"/>
<circle cx="651" cy="106.5" r="1.65" fill="#5E5E62"/>
<circle cx="645.7" cy="130" r="1.65" fill="#5E5E62"/>
<circle cx="649" cy="132.5" r="1.65" fill="#5E5E62"/>
<circle cx="646.2" cy="165" r="1.65" fill="#5E5E62"/>
<circle cx="650" cy="167.8" r="1.65" fill="#5E5E62"/>
<circle cx="653.1" cy="207.3" r="1.65" fill="#5E5E62"/>
<circle cx="648.6" cy="218.4" r="1.65" fill="#5E5E62"/>
<path d="M644.9 147.7L652.9 147.7M646.07 144.87L651.73 150.53M648.9 143.7L648.9 151.7M651.73 144.87L646.07 150.53" stroke="#0A800A" stroke-width="1.4"/>
<circle cx="686.9" cy="95.1" r="1.65" fill="#5E5E62"/>
<circle cx="689" cy="102" r="1.65" fill="#5E5E62"/>
<circle cx="686.5" cy="144.5" r="1.65" fill="#5E5E62"/>
<circle cx="689" cy="147" r="1.65" fill="#5E5E62"/>
<circle cx="683.5" cy="156" r="1.65" fill="#5E5E62"/>
<circle cx="687.4" cy="168" r="1.65" fill="#5E5E62"/>
<circle cx="688" cy="165" r="1.65" fill="#5E5E62"/>
<circle cx="684.9" cy="177.7" r="1.65" fill="#5E5E62"/>
<circle cx="684.6" cy="186.8" r="1.65" fill="#5E5E62"/>
<path d="M682.8 150L690.8 150M683.97 147.17L689.63 152.83M686.8 146L686.8 154M689.63 147.17L683.97 152.83" stroke="#0A800A" stroke-width="1.4"/>
<line x1="420" y1="407.4" x2="420" y2="414.4" stroke="#2AAE2A" stroke-width="1.5"/>
<line x1="416.5" y1="407.4" x2="423.5" y2="407.4" stroke="#2AAE2A" stroke-width="1.5"/>
<line x1="420" y1="441.3" x2="420" y2="450.8" stroke="#2AAE2A" stroke-width="1.5"/>
<line x1="416.5" y1="450.8" x2="423.5" y2="450.8" stroke="#2AAE2A" stroke-width="1.5"/>
<rect x="412.4" y="414.4" width="15.2" height="26.9" fill="#FFBE00" stroke="#FF8A00" stroke-width="1"/>
<line x1="412.4" y1="430.8" x2="427.6" y2="430.8" stroke="#FF0000" stroke-width="2"/>
<line x1="458.2" y1="416.4" x2="458.2" y2="420.1" stroke="#2AAE2A" stroke-width="1.5"/>
<line x1="454.7" y1="416.4" x2="461.7" y2="416.4" stroke="#2AAE2A" stroke-width="1.5"/>
<line x1="458.2" y1="442.6" x2="458.2" y2="450.8" stroke="#2AAE2A" stroke-width="1.5"/>
<line x1="454.7" y1="450.8" x2="461.7" y2="450.8" stroke="#2AAE2A" stroke-width="1.5"/>
<rect x="450.6" y="420.1" width="15.2" height="22.5" fill="#FFBE00" stroke="#FF8A00" stroke-width="1"/>
<line x1="450.6" y1="436.4" x2="465.8" y2="436.4" stroke="#FF0000" stroke-width="2"/>
<line x1="496.4" y1="397.4" x2="496.4" y2="403.4" stroke="#2AAE2A" stroke-width="1.5"/>
<line x1="492.9" y1="397.4" x2="499.9" y2="397.4" stroke="#2AAE2A" stroke-width="1.5"/>
<line x1="496.4" y1="418.6" x2="496.4" y2="422" stroke="#2AAE2A" stroke-width="1.5"/>
<line x1="492.9" y1="422" x2="499.9" y2="422" stroke="#2AAE2A" stroke-width="1.5"/>
<rect x="488.8" y="403.4" width="15.2" height="15.2" fill="#FFBE00" stroke="#FF8A00" stroke-width="1"/>
<line x1="488.8" y1="415" x2="504" y2="415" stroke="#FF0000" stroke-width="2"/>
<line x1="534.5" y1="378.2" x2="534.5" y2="392.1" stroke="#2AAE2A" stroke-width="1.5"/>
<line x1="531" y1="378.2" x2="538" y2="378.2" stroke="#2AAE2A" stroke-width="1.5"/>
<rect x="526.9" y="392.1" width="15.2" height="13.6" fill="#FFBE00" stroke="#FF8A00" stroke-width="1"/>
<line x1="526.9" y1="399.1" x2="542.1" y2="399.1" stroke="#FF0000" stroke-width="2"/>
<line x1="572.6" y1="351.2" x2="572.6" y2="363.4" stroke="#2AAE2A" stroke-width="1.5"/>
<line x1="569.1" y1="351.2" x2="576.1" y2="351.2" stroke="#2AAE2A" stroke-width="1.5"/>
<rect x="565" y="363.4" width="15.2" height="39.4" fill="#FFBE00" stroke="#FF8A00" stroke-width="1"/>
<line x1="565" y1="376" x2="580.2" y2="376" stroke="#FF0000" stroke-width="2"/>
<line x1="610.8" y1="396.4" x2="610.8" y2="409.2" stroke="#2AAE2A" stroke-width="1.5"/>
<line x1="607.3" y1="396.4" x2="614.3" y2="396.4" stroke="#2AAE2A" stroke-width="1.5"/>
<line x1="610.8" y1="422.9" x2="610.8" y2="427.6" stroke="#2AAE2A" stroke-width="1.5"/>
<line x1="607.3" y1="427.6" x2="614.3" y2="427.6" stroke="#2AAE2A" stroke-width="1.5"/>
<rect x="603.2" y="409.2" width="15.2" height="13.7" fill="#FFBE00" stroke="#FF8A00" stroke-width="1"/>
<line x1="603.2" y1="417.6" x2="618.4" y2="417.6" stroke="#FF0000" stroke-width="2"/>
<line x1="648.7" y1="401.2" x2="648.7" y2="407.7" stroke="#2AAE2A" stroke-width="1.5"/>
<line x1="645.2" y1="401.2" x2="652.2" y2="401.2" stroke="#2AAE2A" stroke-width="1.5"/>
<line x1="648.7" y1="438.9" x2="648.7" y2="440.8" stroke="#2AAE2A" stroke-width="1.5"/>
<line x1="645.2" y1="440.8" x2="652.2" y2="440.8" stroke="#2AAE2A" stroke-width="1.5"/>
<rect x="641.1" y="407.7" width="15.2" height="31.2" fill="#FFBE00" stroke="#FF8A00" stroke-width="1"/>
<line x1="641.1" y1="413.1" x2="656.3" y2="413.1" stroke="#FF0000" stroke-width="2"/>
<line x1="687" y1="385.4" x2="687" y2="413.4" stroke="#2AAE2A" stroke-width="1.5"/>
<line x1="683.5" y1="385.4" x2="690.5" y2="385.4" stroke="#2AAE2A" stroke-width="1.5"/>
<line x1="687" y1="438.2" x2="687" y2="445" stroke="#2AAE2A" stroke-width="1.5"/>
<line x1="683.5" y1="445" x2="690.5" y2="445" stroke="#2AAE2A" stroke-width="1.5"/>
<rect x="679.4" y="413.4" width="15.2" height="24.8" fill="#FFBE00" stroke="#FF8A00" stroke-width="1"/>
<line x1="679.4" y1="431.5" x2="694.6" y2="431.5" stroke="#FF0000" stroke-width="2"/>
<path d="M419.5 431.7C421.92 431.85 428.78 432.75 434 432.6C439.22 432.45 445.17 431.8 450.8 430.8C456.43 429.8 460.27 429.15 467.8 426.6C475.33 424.05 487.3 419.52 496 415.5C504.7 411.48 512.67 405.98 520 402.5C527.33 399.02 532.33 396.88 540 394.6C547.67 392.32 558.5 388.9 566 388.8C573.5 388.7 579.33 391.8 585 394C590.67 396.2 594.17 399.5 600 402C605.83 404.5 613.33 407.03 620 409C626.67 410.97 633.33 412.05 640 413.8C646.67 415.55 652.17 416.63 660 419.5C667.83 422.37 682.5 429.08 687 431" fill="none" stroke="#606060" stroke-width="1"/>
<circle cx="421" cy="407.4" r="1.65" fill="#5E5E62"/>
<circle cx="424" cy="407.4" r="1.65" fill="#5E5E62"/>
<circle cx="417" cy="414.5" r="1.65" fill="#5E5E62"/>
<circle cx="423.5" cy="417.5" r="1.65" fill="#5E5E62"/>
<circle cx="418" cy="426" r="1.65" fill="#5E5E62"/>
<circle cx="418" cy="433" r="1.65" fill="#5E5E62"/>
<circle cx="418" cy="437" r="1.65" fill="#5E5E62"/>
<circle cx="417" cy="442.5" r="1.65" fill="#5E5E62"/>
<circle cx="416" cy="444" r="1.65" fill="#5E5E62"/>
<circle cx="420.5" cy="451" r="1.65" fill="#5E5E62"/>
<path d="M416 428.2L424 428.2M417.17 425.37L422.83 431.03M420 424.2L420 432.2M422.83 425.37L417.17 431.03" stroke="#0A800A" stroke-width="1.4"/>
<circle cx="461.5" cy="416.5" r="1.65" fill="#5E5E62"/>
<circle cx="457.5" cy="420.5" r="1.65" fill="#5E5E62"/>
<circle cx="458.5" cy="442.5" r="1.65" fill="#5E5E62"/>
<circle cx="459.5" cy="451" r="1.65" fill="#5E5E62"/>
<path d="M454 432.8L462 432.8M455.17 429.97L460.83 435.63M458 428.8L458 436.8M460.83 429.97L455.17 435.63" stroke="#0A800A" stroke-width="1.4"/>
<circle cx="492.5" cy="397.7" r="1.65" fill="#5E5E62"/>
<circle cx="495" cy="400" r="1.65" fill="#5E5E62"/>
<circle cx="497" cy="404" r="1.65" fill="#5E5E62"/>
<circle cx="494" cy="417" r="1.65" fill="#5E5E62"/>
<circle cx="500" cy="417" r="1.65" fill="#5E5E62"/>
<circle cx="495" cy="421.5" r="1.65" fill="#5E5E62"/>
<circle cx="493.4" cy="445.5" r="1.65" fill="#5E5E62"/>
<path d="M492.5 413.5L500.5 413.5M493.67 410.67L499.33 416.33M496.5 409.5L496.5 417.5M499.33 410.67L493.67 416.33" stroke="#0A800A" stroke-width="1.4"/>
<circle cx="535.6" cy="340.2" r="1.65" fill="#5E5E62"/>
<circle cx="533" cy="378.2" r="1.65" fill="#5E5E62"/>
<circle cx="532.5" cy="392" r="1.65" fill="#5E5E62"/>
<circle cx="535" cy="405.5" r="1.65" fill="#5E5E62"/>
<circle cx="537" cy="405" r="1.65" fill="#5E5E62"/>
<circle cx="538.6" cy="431.3" r="1.65" fill="#5E5E62"/>
<circle cx="532.8" cy="440.6" r="1.65" fill="#5E5E62"/>
<path d="M529.7 398.6L537.7 398.6M530.87 395.77L536.53 401.43M533.7 394.6L533.7 402.6M536.53 395.77L530.87 401.43" stroke="#0A800A" stroke-width="1.4"/>
<circle cx="574" cy="351.2" r="1.65" fill="#5E5E62"/>
<circle cx="569" cy="363.2" r="1.65" fill="#5E5E62"/>
<circle cx="571.2" cy="403.5" r="1.65" fill="#5E5E62"/>
<circle cx="574.7" cy="402.5" r="1.65" fill="#5E5E62"/>
<path d="M568.5 380L576.5 380M569.67 377.17L575.33 382.83M572.5 376L572.5 384M575.33 377.17L569.67 382.83" stroke="#0A800A" stroke-width="1.4"/>
<circle cx="614" cy="401.5" r="1.65" fill="#5E5E62"/>
<circle cx="610" cy="409.5" r="1.65" fill="#5E5E62"/>
<circle cx="611" cy="421" r="1.65" fill="#5E5E62"/>
<circle cx="613" cy="421.5" r="1.65" fill="#5E5E62"/>
<circle cx="612" cy="427.6" r="1.65" fill="#5E5E62"/>
<path d="M606.7 414.4L614.7 414.4M607.87 411.57L613.53 417.23M610.7 410.4L610.7 418.4M613.53 411.57L607.87 417.23" stroke="#0A800A" stroke-width="1.4"/>
<circle cx="648" cy="401.2" r="1.65" fill="#5E5E62"/>
<circle cx="651" cy="407.5" r="1.65" fill="#5E5E62"/>
<circle cx="649.5" cy="413.5" r="1.65" fill="#5E5E62"/>
<circle cx="648.5" cy="438.5" r="1.65" fill="#5E5E62"/>
<circle cx="649.5" cy="441" r="1.65" fill="#5E5E62"/>
<path d="M644.6 422L652.6 422M645.77 419.17L651.43 424.83M648.6 418L648.6 426M651.43 419.17L645.77 424.83" stroke="#0A800A" stroke-width="1.4"/>
<circle cx="688" cy="385.4" r="1.65" fill="#5E5E62"/>
<circle cx="684" cy="413.5" r="1.65" fill="#5E5E62"/>
<circle cx="689" cy="431.8" r="1.65" fill="#5E5E62"/>
<circle cx="691" cy="436" r="1.65" fill="#5E5E62"/>
<circle cx="690.5" cy="439" r="1.65" fill="#5E5E62"/>
<circle cx="685" cy="445" r="1.65" fill="#5E5E62"/>
<path d="M683 424.6L691 424.6M684.17 421.77L689.83 427.43M687 420.6L687 428.6M689.83 421.77L684.17 427.43" stroke="#0A800A" stroke-width="1.4"/>
<line x1="44.2" y1="6.1" x2="44.2" y2="233.3" stroke="#9A9A9A" stroke-width="2"/>
<line x1="349" y1="6.1" x2="349" y2="233.3" stroke="#9A9A9A" stroke-width="2"/>
<line x1="43.2" y1="6.1" x2="350" y2="6.1" stroke="#9A9A9A" stroke-width="2"/>
<line x1="43.2" y1="233.3" x2="350" y2="233.3" stroke="#555555" stroke-width="1.6"/>
<line x1="44.2" y1="278.8" x2="44.2" y2="506" stroke="#9A9A9A" stroke-width="2"/>
<line x1="349" y1="278.8" x2="349" y2="506" stroke="#9A9A9A" stroke-width="2"/>
<line x1="43.2" y1="278.8" x2="350" y2="278.8" stroke="#555555" stroke-width="1.3"/>
<line x1="43.2" y1="506" x2="350" y2="506" stroke="#555555" stroke-width="1.6"/>
<line x1="401.6" y1="6.1" x2="401.6" y2="233.3" stroke="#9A9A9A" stroke-width="2"/>
<line x1="706" y1="6.1" x2="706" y2="233.3" stroke="#9A9A9A" stroke-width="2"/>
<line x1="400.6" y1="6.1" x2="707" y2="6.1" stroke="#9A9A9A" stroke-width="2"/>
<line x1="400.6" y1="233.3" x2="707" y2="233.3" stroke="#555555" stroke-width="1.6"/>
<line x1="401.6" y1="278.8" x2="401.6" y2="506" stroke="#9A9A9A" stroke-width="2"/>
<line x1="706" y1="278.8" x2="706" y2="506" stroke="#9A9A9A" stroke-width="2"/>
<line x1="400.6" y1="278.8" x2="707" y2="278.8" stroke="#555555" stroke-width="1.3"/>
<line x1="400.6" y1="506" x2="707" y2="506" stroke="#555555" stroke-width="1.6"/>
<line x1="98.9" y1="5.75" x2="138.4" y2="5.75" stroke="#FF0000" stroke-width="1.8"/>
<path d="M98.9 0.85L103.8 5.75L98.9 10.65L94 5.75Z" fill="#FF0000"/>
<path d="M138.4 0.85L143.3 5.75L138.4 10.65L133.5 5.75Z" fill="#FF0000"/>
<line x1="98.9" y1="14.4" x2="325.6" y2="14.4" stroke="#FF0000" stroke-width="1.8"/>
<path d="M98.9 9.5L103.8 14.4L98.9 19.3L94 14.4Z" fill="#FF0000"/>
<path d="M212.4 9.5L217.3 14.4L212.4 19.3L207.5 14.4Z" fill="#FF0000"/>
<path d="M325.6 9.5L330.5 14.4L325.6 19.3L320.7 14.4Z" fill="#FF0000"/>
<line x1="98.9" y1="23" x2="251.4" y2="23" stroke="#FF0000" stroke-width="1.8"/>
<path d="M98.9 18.1L103.8 23L98.9 27.9L94 23Z" fill="#FF0000"/>
<path d="M251.4 18.1L256.3 23L251.4 27.9L246.5 23Z" fill="#FF0000"/>
<line x1="98.4" y1="30.3" x2="289.7" y2="30.3" stroke="#FF0000" stroke-width="1.8"/>
<path d="M98.4 25.4L103.3 30.3L98.4 35.2L93.5 30.3Z" fill="#FF0000"/>
<path d="M289.7 25.4L294.6 30.3L289.7 35.2L284.8 30.3Z" fill="#FF0000"/>
<line x1="251.4" y1="41.3" x2="325.6" y2="41.3" stroke="#FF0000" stroke-width="1.8"/>
<path d="M251.4 36.4L256.3 41.3L251.4 46.2L246.5 41.3Z" fill="#FF0000"/>
<path d="M325.6 36.4L330.5 41.3L325.6 46.2L320.7 41.3Z" fill="#FF0000"/>
<line x1="61.7" y1="257.5" x2="61.7" y2="284" stroke="#FF0000" stroke-width="1.8"/>
<path d="M61.7 252.6L66.6 257.5L61.7 262.4L56.8 257.5Z" fill="#FF0000"/>
<path d="M61.7 279.1L66.6 284L61.7 288.9L56.8 284Z" fill="#FF0000"/>
<line x1="137.4" y1="256.4" x2="137.4" y2="283.2" stroke="#FF0000" stroke-width="1.8"/>
<path d="M137.4 251.5L142.3 256.4L137.4 261.3L132.5 256.4Z" fill="#FF0000"/>
<path d="M137.4 278.3L142.3 283.2L137.4 288.1L132.5 283.2Z" fill="#FF0000"/>
<line x1="213.1" y1="256.4" x2="213.1" y2="283.2" stroke="#FF0000" stroke-width="1.8"/>
<path d="M213.1 251.5L218 256.4L213.1 261.3L208.2 256.4Z" fill="#FF0000"/>
<path d="M213.1 278.3L218 283.2L213.1 288.1L208.2 283.2Z" fill="#FF0000"/>
<line x1="251.5" y1="268.8" x2="251.5" y2="291.1" stroke="#FF0000" stroke-width="1.8"/>
<path d="M251.5 263.9L256.4 268.8L251.5 273.7L246.6 268.8Z" fill="#FF0000"/>
<path d="M251.5 286.2L256.4 291.1L251.5 296L246.6 291.1Z" fill="#FF0000"/>
<line x1="61.7" y1="298.8" x2="214.4" y2="298.8" stroke="#FF0000" stroke-width="1.8"/>
<path d="M61.7 293.9L66.6 298.8L61.7 303.7L56.8 298.8Z" fill="#FF0000"/>
<path d="M214.4 293.9L219.3 298.8L214.4 303.7L209.5 298.8Z" fill="#FF0000"/>
<line x1="96.8" y1="307.8" x2="214.4" y2="307.8" stroke="#FF0000" stroke-width="1.8"/>
<path d="M96.8 302.9L101.7 307.8L96.8 312.7L91.9 307.8Z" fill="#FF0000"/>
<path d="M214.4 302.9L219.3 307.8L214.4 312.7L209.5 307.8Z" fill="#FF0000"/>
<line x1="96.8" y1="317" x2="249.8" y2="317" stroke="#FF0000" stroke-width="1.8"/>
<path d="M96.8 312.1L101.7 317L96.8 321.9L91.9 317Z" fill="#FF0000"/>
<path d="M249.8 312.1L254.7 317L249.8 321.9L244.9 317Z" fill="#FF0000"/>
<line x1="63" y1="326.3" x2="249.8" y2="326.3" stroke="#FF0000" stroke-width="1.8"/>
<path d="M63 321.4L67.9 326.3L63 331.2L58.1 326.3Z" fill="#FF0000"/>
<path d="M249.8 321.4L254.7 326.3L249.8 331.2L244.9 326.3Z" fill="#FF0000"/>
<line x1="417.2" y1="7.1" x2="609" y2="7.1" stroke="#FF0000" stroke-width="1.8"/>
<path d="M417.2 2.2L422.1 7.1L417.2 12L412.3 7.1Z" fill="#FF0000"/>
<path d="M609 2.2L613.9 7.1L609 12L604.1 7.1Z" fill="#FF0000"/>
<line x1="417.2" y1="14.7" x2="456.3" y2="14.7" stroke="#FF0000" stroke-width="1.8"/>
<path d="M417.2 9.8L422.1 14.7L417.2 19.6L412.3 14.7Z" fill="#FF0000"/>
<path d="M456.3 9.8L461.2 14.7L456.3 19.6L451.4 14.7Z" fill="#FF0000"/>
<line x1="417.2" y1="22.9" x2="568.7" y2="22.9" stroke="#FF0000" stroke-width="1.8"/>
<path d="M417.2 18L422.1 22.9L417.2 27.8L412.3 22.9Z" fill="#FF0000"/>
<path d="M568.7 18L573.6 22.9L568.7 27.8L563.8 22.9Z" fill="#FF0000"/>
<line x1="493.7" y1="32.5" x2="567.8" y2="32.5" stroke="#FF0000" stroke-width="1.8"/>
<path d="M493.7 27.6L498.6 32.5L493.7 37.4L488.8 32.5Z" fill="#FF0000"/>
<path d="M567.8 27.6L572.7 32.5L567.8 37.4L562.9 32.5Z" fill="#FF0000"/>
<line x1="493.7" y1="41.5" x2="607.1" y2="41.5" stroke="#FF0000" stroke-width="1.8"/>
<path d="M493.7 36.6L498.6 41.5L493.7 46.4L488.8 41.5Z" fill="#FF0000"/>
<path d="M607.1 36.6L612 41.5L607.1 46.4L602.2 41.5Z" fill="#FF0000"/>
<line x1="567.7" y1="54.2" x2="681.2" y2="54.2" stroke="#FF0000" stroke-width="1.8"/>
<path d="M567.7 49.3L572.6 54.2L567.7 59.1L562.8 54.2Z" fill="#FF0000"/>
<path d="M681.2 49.3L686.1 54.2L681.2 59.1L676.3 54.2Z" fill="#FF0000"/>
<line x1="606.8" y1="67.7" x2="646.5" y2="67.7" stroke="#FF0000" stroke-width="1.8"/>
<path d="M606.8 62.8L611.7 67.7L606.8 72.6L601.9 67.7Z" fill="#FF0000"/>
<path d="M646.5 62.8L651.4 67.7L646.5 72.6L641.6 67.7Z" fill="#FF0000"/>
<line x1="606.8" y1="79.6" x2="681.2" y2="79.6" stroke="#FF0000" stroke-width="1.8"/>
<path d="M606.8 74.7L611.7 79.6L606.8 84.5L601.9 79.6Z" fill="#FF0000"/>
<path d="M681.2 74.7L686.1 79.6L681.2 84.5L676.3 79.6Z" fill="#FF0000"/>
<line x1="417" y1="256.2" x2="417" y2="282.4" stroke="#FF0000" stroke-width="1.8"/>
<path d="M417 251.3L421.9 256.2L417 261.1L412.1 256.2Z" fill="#FF0000"/>
<path d="M417 277.5L421.9 282.4L417 287.3L412.1 282.4Z" fill="#FF0000"/>
<line x1="493.6" y1="256.2" x2="493.6" y2="282.5" stroke="#FF0000" stroke-width="1.8"/>
<path d="M493.6 251.3L498.5 256.2L493.6 261.1L488.7 256.2Z" fill="#FF0000"/>
<path d="M493.6 277.6L498.5 282.5L493.6 287.4L488.7 282.5Z" fill="#FF0000"/>
<line x1="571.1" y1="257.1" x2="571.1" y2="283.8" stroke="#FF0000" stroke-width="1.8"/>
<path d="M571.1 252.2L576 257.1L571.1 262L566.2 257.1Z" fill="#FF0000"/>
<path d="M571.1 278.9L576 283.8L571.1 288.7L566.2 283.8Z" fill="#FF0000"/>
<line x1="648.1" y1="255.8" x2="648.1" y2="282.3" stroke="#FF0000" stroke-width="1.8"/>
<path d="M648.1 250.9L653 255.8L648.1 260.7L643.2 255.8Z" fill="#FF0000"/>
<path d="M648.1 277.4L653 282.3L648.1 287.2L643.2 282.3Z" fill="#FF0000"/>
<line x1="681.5" y1="268.9" x2="681.5" y2="286.6" stroke="#FF0000" stroke-width="1.8"/>
<path d="M681.5 264L686.4 268.9L681.5 273.8L676.6 268.9Z" fill="#FF0000"/>
<path d="M681.5 281.7L686.4 286.6L681.5 291.5L676.6 286.6Z" fill="#FF0000"/>
<line x1="417.2" y1="296.3" x2="569.1" y2="296.3" stroke="#FF0000" stroke-width="1.8"/>
<path d="M417.2 291.4L422.1 296.3L417.2 301.2L412.3 296.3Z" fill="#FF0000"/>
<path d="M569.1 291.4L574 296.3L569.1 301.2L564.2 296.3Z" fill="#FF0000"/>
<line x1="455.5" y1="305.3" x2="569.1" y2="305.3" stroke="#FF0000" stroke-width="1.8"/>
<path d="M455.5 300.4L460.4 305.3L455.5 310.2L450.6 305.3Z" fill="#FF0000"/>
<path d="M569.1 300.4L574 305.3L569.1 310.2L564.2 305.3Z" fill="#FF0000"/>
<g font-family="Liberation Sans, sans-serif" fill="#000">
<text x="40.3" y="9.7" font-size="10" text-anchor="end" font-weight="normal" stroke="#000" stroke-width="0.22">24.0</text>
<text x="396.6" y="9.7" font-size="10" text-anchor="end" font-weight="normal" stroke="#000" stroke-width="0.22">10.0</text>
<text x="40.3" y="55.14" font-size="10" text-anchor="end" font-weight="normal" stroke="#000" stroke-width="0.22">21.0</text>
<text x="396.6" y="55.14" font-size="10" text-anchor="end" font-weight="normal" stroke="#000" stroke-width="0.22">8.0</text>
<text x="40.3" y="100.58" font-size="10" text-anchor="end" font-weight="normal" stroke="#000" stroke-width="0.22">18.0</text>
<text x="396.6" y="100.58" font-size="10" text-anchor="end" font-weight="normal" stroke="#000" stroke-width="0.22">6.0</text>
<text x="40.3" y="146.02" font-size="10" text-anchor="end" font-weight="normal" stroke="#000" stroke-width="0.22">15.0</text>
<text x="396.6" y="146.02" font-size="10" text-anchor="end" font-weight="normal" stroke="#000" stroke-width="0.22">4.0</text>
<text x="40.3" y="191.46" font-size="10" text-anchor="end" font-weight="normal" stroke="#000" stroke-width="0.22">12.0</text>
<text x="396.6" y="191.46" font-size="10" text-anchor="end" font-weight="normal" stroke="#000" stroke-width="0.22">2.0</text>
<text x="40.3" y="236.9" font-size="10" text-anchor="end" font-weight="normal" stroke="#000" stroke-width="0.22">9.0</text>
<text x="396.6" y="236.9" font-size="10" text-anchor="end" font-weight="normal" stroke="#000" stroke-width="0.22">0.0</text>
<text x="40.3" y="282.4" font-size="10" text-anchor="end" font-weight="normal" stroke="#000" stroke-width="0.22">24.0</text>
<text x="396.6" y="282.4" font-size="10" text-anchor="end" font-weight="normal" stroke="#000" stroke-width="0.22">3.75</text>
<text x="40.3" y="327.84" font-size="10" text-anchor="end" font-weight="normal" stroke="#000" stroke-width="0.22">21.0</text>
<text x="396.6" y="327.84" font-size="10" text-anchor="end" font-weight="normal" stroke="#000" stroke-width="0.22">3.00</text>
<text x="40.3" y="373.28" font-size="10" text-anchor="end" font-weight="normal" stroke="#000" stroke-width="0.22">18.0</text>
<text x="396.6" y="373.28" font-size="10" text-anchor="end" font-weight="normal" stroke="#000" stroke-width="0.22">2.25</text>
<text x="40.3" y="418.72" font-size="10" text-anchor="end" font-weight="normal" stroke="#000" stroke-width="0.22">15.0</text>
<text x="396.6" y="418.72" font-size="10" text-anchor="end" font-weight="normal" stroke="#000" stroke-width="0.22">1.50</text>
<text x="40.3" y="464.16" font-size="10" text-anchor="end" font-weight="normal" stroke="#000" stroke-width="0.22">12.0</text>
<text x="396.6" y="464.16" font-size="10" text-anchor="end" font-weight="normal" stroke="#000" stroke-width="0.22">0.75</text>
<text x="40.3" y="509.6" font-size="10" text-anchor="end" font-weight="normal" stroke="#000" stroke-width="0.22">9.0</text>
<text x="396.6" y="509.6" font-size="10" text-anchor="end" font-weight="normal" stroke="#000" stroke-width="0.22">0.00</text>
<text x="63" y="247" font-size="10.5" text-anchor="middle" font-weight="normal" stroke="#000" stroke-width="0.22">larvae 1</text>
<text x="420.3" y="247" font-size="10.5" text-anchor="middle" font-weight="normal" stroke="#000" stroke-width="0.22">larvae 1</text>
<text x="63" y="519.5" font-size="10.5" text-anchor="middle" font-weight="normal" stroke="#000" stroke-width="0.22">larvae 3</text>
<text x="420.3" y="519.5" font-size="10.5" text-anchor="middle" font-weight="normal" stroke="#000" stroke-width="0.22">larvae 3</text>
<text x="101.1" y="258.8" font-size="10.5" text-anchor="middle" font-weight="normal" stroke="#000" stroke-width="0.22">larvae 4</text>
<text x="458.4" y="258.8" font-size="10.5" text-anchor="middle" font-weight="normal" stroke="#000" stroke-width="0.22">larvae 4</text>
<text x="101.1" y="532" font-size="10.5" text-anchor="middle" font-weight="normal" stroke="#000" stroke-width="0.22">larvae 10</text>
<text x="458.4" y="532" font-size="10.5" text-anchor="middle" font-weight="normal" stroke="#000" stroke-width="0.22">larvae 10</text>
<text x="139.2" y="247" font-size="10.5" text-anchor="middle" font-weight="normal" stroke="#000" stroke-width="0.22">pupae 1</text>
<text x="496.5" y="247" font-size="10.5" text-anchor="middle" font-weight="normal" stroke="#000" stroke-width="0.22">pupae 1</text>
<text x="139.2" y="519.5" font-size="10.5" text-anchor="middle" font-weight="normal" stroke="#000" stroke-width="0.22">pupae 1</text>
<text x="496.5" y="519.5" font-size="10.5" text-anchor="middle" font-weight="normal" stroke="#000" stroke-width="0.22">pupae 1</text>
<text x="177.3" y="532" font-size="10.5" text-anchor="middle" font-weight="normal" stroke="#000" stroke-width="0.22">pupae 3</text>
<text x="534.6" y="532" font-size="10.5" text-anchor="middle" font-weight="normal" stroke="#000" stroke-width="0.22">pupae 3</text>
<text x="215.4" y="247" font-size="10.5" text-anchor="middle" font-weight="normal" stroke="#000" stroke-width="0.22">pupae 3</text>
<text x="572.7" y="247" font-size="10.5" text-anchor="middle" font-weight="normal" stroke="#000" stroke-width="0.22">pupae 3</text>
<text x="215.4" y="519.5" font-size="10.5" text-anchor="middle" font-weight="normal" stroke="#000" stroke-width="0.22">pupae 6</text>
<text x="572.7" y="519.5" font-size="10.5" text-anchor="middle" font-weight="normal" stroke="#000" stroke-width="0.22">pupae 6</text>
<text x="253.5" y="258.8" font-size="10.5" text-anchor="middle" font-weight="normal" stroke="#000" stroke-width="0.22">imago 1</text>
<text x="610.8" y="258.8" font-size="10.5" text-anchor="middle" font-weight="normal" stroke="#000" stroke-width="0.22">imago 1</text>
<text x="253.5" y="532" font-size="10.5" text-anchor="middle" font-weight="normal" stroke="#000" stroke-width="0.22">imago 1</text>
<text x="610.8" y="532" font-size="10.5" text-anchor="middle" font-weight="normal" stroke="#000" stroke-width="0.22">imago 1</text>
<text x="291.6" y="247" font-size="10.5" text-anchor="middle" font-weight="normal" stroke="#000" stroke-width="0.22">imago 5</text>
<text x="648.9" y="247" font-size="10.5" text-anchor="middle" font-weight="normal" stroke="#000" stroke-width="0.22">imago 5</text>
<text x="291.6" y="519.5" font-size="10.5" text-anchor="middle" font-weight="normal" stroke="#000" stroke-width="0.22">imago 5</text>
<text x="648.9" y="519.5" font-size="10.5" text-anchor="middle" font-weight="normal" stroke="#000" stroke-width="0.22">imago 5</text>
<text x="329.7" y="258.8" font-size="10.5" text-anchor="middle" font-weight="normal" stroke="#000" stroke-width="0.22">imago 20</text>
<text x="687" y="258.8" font-size="10.5" text-anchor="middle" font-weight="normal" stroke="#000" stroke-width="0.22">imago 20</text>
<text x="329.7" y="532" font-size="10.5" text-anchor="middle" font-weight="normal" stroke="#000" stroke-width="0.22">imago 20</text>
<text x="687" y="532" font-size="10.5" text-anchor="middle" font-weight="normal" stroke="#000" stroke-width="0.22">imago 20</text>
<text x="1.8" y="21.3" font-size="23" text-anchor="start" font-weight="bold" stroke="#000" stroke-width="0.5">a</text>
<text x="1.8" y="298.8" font-size="23" text-anchor="start" font-weight="bold" stroke="#000" stroke-width="0.5">b</text>
<text x="357.3" y="20.6" font-size="23" text-anchor="start" font-weight="bold" stroke="#000" stroke-width="0.5">c</text>
<text x="356.3" y="299.1" font-size="23" text-anchor="start" font-weight="bold" stroke="#000" stroke-width="0.5">d</text>
<text x="255" y="86.2" font-size="18.5" font-weight="bold">25<tspan font-size="10" dx="1.2" dy="-5.2">°</tspan><tspan dx="0.8" dy="5.2">C</tspan></text>
<text x="532.3" y="85.6" font-size="18.5" font-weight="bold">25<tspan font-size="10" dx="1.2" dy="-5.2">°</tspan><tspan dx="0.8" dy="5.2">C</tspan></text>
<text x="256.2" y="364.5" font-size="18.5" font-weight="bold">18<tspan font-size="10" dx="1.2" dy="-5.2">°</tspan><tspan dx="0.8" dy="5.2">C</tspan></text>
<text x="616" y="364.6" font-size="18.5" font-weight="bold">18<tspan font-size="10" dx="1.2" dy="-5.2">°</tspan><tspan dx="0.8" dy="5.2">C</tspan></text>
<text transform="translate(12.8,119.8) rotate(-90)" font-size="12.2" font-weight="bold" text-anchor="middle">dU/10<tspan font-size="9" dy="-3.6">6</tspan><tspan dy="3.6">dN (25°C)</tspan></text>
<text transform="translate(12.8,392.3) rotate(-90)" font-size="12.2" font-weight="bold" text-anchor="middle">dU/10<tspan font-size="9" dy="-3.6">6</tspan><tspan dy="3.6">dN (18°C)</tspan></text>
<text transform="translate(369.6,119.3) rotate(-90)" font-size="12.2" font-weight="bold" text-anchor="middle">5-hmdU/10<tspan font-size="9" dy="-3.6">6</tspan><tspan dy="3.6">dN (25°C)</tspan></text>
<text transform="translate(369.6,391.8) rotate(-90)" font-size="12.2" font-weight="bold" text-anchor="middle">5-hmdU/10<tspan font-size="9" dy="-3.6">6</tspan><tspan dy="3.6">dN (18°C)</tspan></text>
</g>
</svg></body></html>
